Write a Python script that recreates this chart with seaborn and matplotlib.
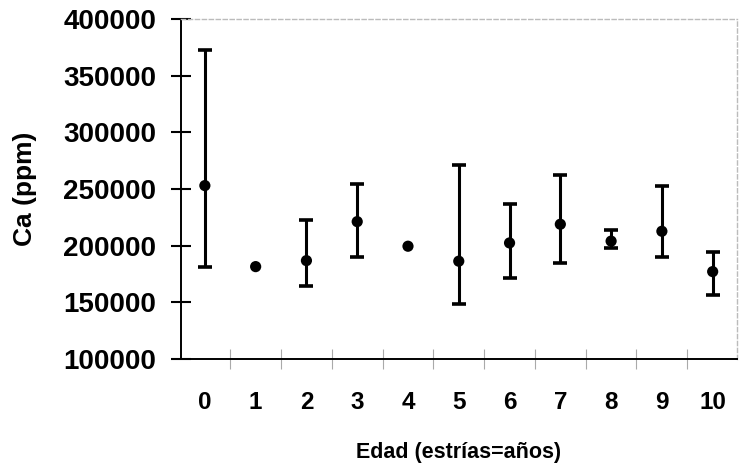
import numpy as np
import pandas as pd
import matplotlib.pyplot as plt
import seaborn as sns

# Ca (ppm) por edad (estrías = años)
edad = [0, 1, 2, 3, 4, 5, 6, 7, 8, 9, 10]
ca_media = [253000, 181500, 186800, 221200, 199500, 186300, 202400, 218900, 204000, 212700, 177100]
ca_sup = [372500, np.nan, 222700, 254500, np.nan, 271200, 236800, 262700, 213900, 253000, 194200]
ca_inf = [181500, np.nan, 164200, 190400, np.nan, 148600, 171800, 184800, 198000, 190400, 156800]

df = pd.DataFrame({'edad': edad, 'media': ca_media, 'sup': ca_sup, 'inf': ca_inf})
barras = df.dropna()

sns.set_theme(style="ticks")
plt.rcParams['font.family'] = ['Liberation Sans', 'DejaVu Sans']
plt.rcParams['font.weight'] = 'bold'
plt.rcParams['text.color'] = 'black'
plt.rcParams['axes.labelcolor'] = 'black'
plt.rcParams['xtick.color'] = 'black'
plt.rcParams['ytick.color'] = 'black'
plt.rcParams['ytick.left'] = True
plt.rcParams['ytick.direction'] = 'inout'
plt.rcParams['ytick.major.size'] = 14
plt.rcParams['ytick.major.width'] = 1.5
plt.rcParams['ytick.major.pad'] = 11

fig = plt.figure(figsize=(7.4, 4.7), dpi=100)
ax = fig.add_axes([0.2446, 0.2362, 0.7514, 0.7234])

ax.errorbar(barras['edad'], barras['media'],
            yerr=[barras['media'] - barras['inf'], barras['sup'] - barras['media']],
            fmt='none', ecolor='black', elinewidth=2.2, capsize=5, capthick=2.6, zorder=2)
sns.scatterplot(data=df, x='edad', y='media', color='black', s=65, edgecolor='none',
                zorder=3, ax=ax, legend=False)

ax.set_xlim(-0.47, 10.48)
ax.set_ylim(100000, 400000)
ax.set_yticks(range(100000, 400001, 50000))
ax.set_yticklabels([str(v) for v in range(100000, 400001, 50000)], fontsize=20, fontweight='bold')
ax.set_xticks(edad)
ax.set_xticklabels([str(e) for e in edad], fontsize=17.5, fontweight='bold')
ax.set_xticks(np.arange(0.5, 10.5, 1), minor=True)

ax.tick_params(axis='x', which='major', length=0, pad=23, labelcolor='black')
ax.tick_params(axis='x', which='minor', direction='inout', length=14, width=0.8,
               color='#aaaaaa', bottom=True)

for lado in ['left', 'bottom']:
    ax.spines[lado].set_color('black')
    ax.spines[lado].set_linewidth(1.4)
for lado in ['top', 'right']:
    ax.spines[lado].set_visible(True)
    ax.spines[lado].set_color('#bbbbbb')
    ax.spines[lado].set_linewidth(1.0)
    ax.spines[lado].set_linestyle((0, (3, 2)))

ax.set_xlabel('Edad (estrías=años)', fontsize=15.5, fontweight='bold', labelpad=20)
ax.set_ylabel('Ca (ppm)', fontsize=19, fontweight='bold', labelpad=19)

fig.savefig('out.png', dpi=100)
plt.close(fig)
